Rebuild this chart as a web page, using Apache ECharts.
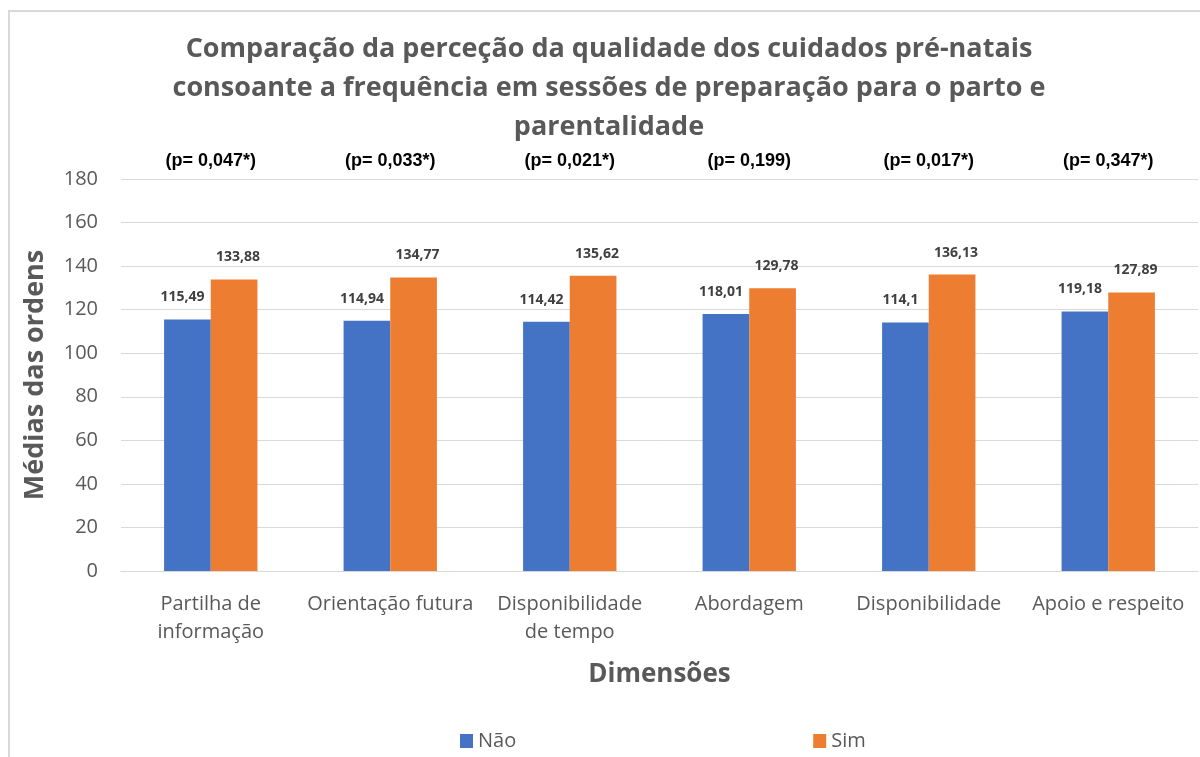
<!DOCTYPE html>
<html>
<head>
<meta charset="utf-8">
<script src="https://cdn.jsdelivr.net/npm/echarts@6/dist/echarts.min.js"></script>
<style>
  html, body { margin: 0; padding: 0; background: #fff; }
  #chart { width: 1200px; height: 757px; }
</style>
</head>
<body>
<div id="chart"></div>
<script>
var categories = ['Partilha de\ninformação', 'Orientação futura', 'Disponibilidade\nde tempo', 'Abordagem', 'Disponibilidade', 'Apoio e respeito'];
var pValues = ['(p= 0,047*)', '(p= 0,033*)', '(p= 0,021*)', '(p= 0,199)', '(p= 0,017*)', '(p= 0,347*)'];
var naoValues = [115.49, 114.94, 114.42, 118.01, 114.1, 119.18];
var simValues = [133.88, 134.77, 135.62, 129.78, 136.13, 127.89];

var myChart = echarts.init(document.getElementById('chart'));

function fmt(p) {
    return String(p.value).replace('.', ',');
}

var option = {
    animation: false,
    textStyle: { fontFamily: 'Open Sans' },
    title: {
        text: 'Comparação da perceção da qualidade dos cuidados pré-natais\nconsoante a frequência em sessões de preparação para o parto e\nparentalidade',
        left: 604,
        top: 25,
        textAlign: 'center',
        textStyle: {
            fontFamily: 'Open Sans',
            fontSize: 27,
            fontWeight: 'bold',
            color: '#595959',
            lineHeight: 39
        }
    },
    graphic: [{
        type: 'rect',
        shape: { x: 9, y: 11, width: 1400, height: 900 },
        style: { fill: 'none', stroke: '#D9D9D9', lineWidth: 2 },
        silent: true
    }],
    legend: {
        left: 455,
        top: 726,
        itemWidth: 13,
        itemHeight: 14,
        itemGap: 297,
        icon: 'rect',
        textStyle: { fontFamily: 'Open Sans', fontSize: 20, color: '#595959' },
        data: ['Não', 'Sim']
    },
    grid: {
        left: 121,
        right: 2,
        top: 179,
        bottom: 186,
        containLabel: false
    },
    xAxis: [{
        type: 'category',
        data: categories,
        name: 'Dimensões',
        nameLocation: 'middle',
        nameGap: 91,
        nameTextStyle: { fontFamily: 'Open Sans', fontSize: 26, fontWeight: 'bold', color: '#595959' },
        axisLine: { lineStyle: { color: '#D9D9D9', width: 1 } },
        axisTick: { show: false },
        axisLabel: {
            interval: 0,
            margin: 19,
            fontFamily: 'Open Sans',
            fontSize: 20,
            color: '#595959',
            lineHeight: 28
        }
    }, {
        type: 'category',
        data: pValues,
        position: 'top',
        axisLine: { show: false },
        axisTick: { show: false },
        axisLabel: {
            interval: 0,
            margin: 9,
            fontFamily: 'Liberation Sans',
            fontSize: 18,
            fontWeight: 'bold',
            color: '#000000'
        }
    }],
    yAxis: {
        type: 'value',
        min: 0,
        max: 180,
        interval: 20,
        name: 'Médias das ordens',
        nameLocation: 'middle',
        nameGap: 72,
        nameTextStyle: { fontFamily: 'Open Sans', fontSize: 27, fontWeight: 'bold', color: '#595959' },
        axisLine: { show: false },
        axisTick: { show: false },
        axisLabel: { margin: 23, fontFamily: 'Open Sans', fontSize: 20, color: '#595959' },
        splitLine: { lineStyle: { color: '#D9D9D9', width: 1 } }
    },
    series: [{
        name: 'Não',
        type: 'bar',
        data: naoValues,
        barWidth: '26%',
        barGap: '0%',
        itemStyle: { color: '#4472C4' },
        label: {
            show: true,
            position: 'top',
            distance: 15,
            offset: [-5, 0],
            formatter: fmt,
            fontFamily: 'Open Sans',
            fontSize: 14,
            fontWeight: 'bold',
            color: '#404040'
        }
    }, {
        name: 'Sim',
        type: 'bar',
        data: simValues,
        barWidth: '26%',
        barGap: '0%',
        itemStyle: { color: '#ED7D31' },
        label: {
            show: true,
            position: 'top',
            distance: 15,
            offset: [4, 0],
            formatter: fmt,
            fontFamily: 'Open Sans',
            fontSize: 14,
            fontWeight: 'bold',
            color: '#404040'
        }
    }]
};
myChart.setOption(option);
</script>
</body>
</html>
